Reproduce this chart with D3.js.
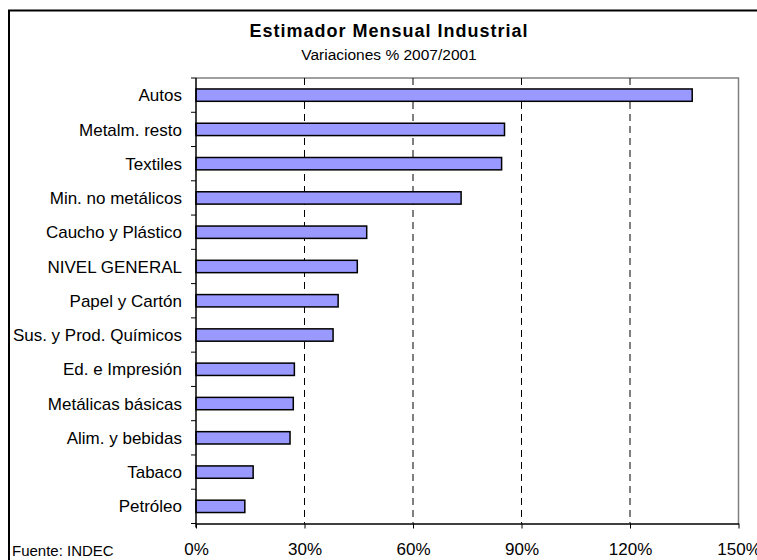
<html>
<head>
    <meta charset="utf-8">
    <title>Estimador Mensual Industrial</title>
    <style>
        body { margin: 0; background: #fff; }
        text { font-family: "Liberation Sans", Arial, sans-serif; fill: #000; }
        g.bars rect { fill: #9999ff; stroke: #000; stroke-width: 1.5; }
        g.grid line { stroke: #000; stroke-width: 1; stroke-dasharray: 7,5; }
        g.xaxis path, g.xaxis line { stroke: #000; }
    </style>
</head>
<body>
<div id="target"></div>
<script src="https://cdnjs.cloudflare.com/ajax/libs/d3/7.8.5/d3.min.js"></script>
<script>
    // data (% change 2007 vs 2001)
    var categories = ['Autos', 'Metalm. resto', 'Textiles', 'Min. no metálicos', 'Caucho y Plástico',
        'NIVEL GENERAL', 'Papel y Cartón', 'Sus. y Prod. Químicos', 'Ed. e Impresión',
        'Metálicas básicas', 'Alim. y bebidas', 'Tabaco', 'Petróleo'];
    var values = [137.2, 85.3, 84.5, 73.3, 47.2, 44.6, 39.3, 37.9, 27.2, 26.9, 26.0, 15.8, 13.5];
    var xTicks = [0, 30, 60, 90, 120, 150];
    var gridTicks = [30, 60, 90, 120];

    // plot area edges ("top" is taken by window.top, so prefix them)
    var plotLeft = 196, plotRight = 738.5, plotTop = 78, plotBottom = 523.5;

    var svg = d3.select('#target').append('svg')
            .attr('width', 757)
            .attr('height', 560);

    // outer frame
    svg.append('rect')
            .attr('x', 9).attr('y', 10.5)
            .attr('width', 800).attr('height', 600)
            .attr('fill', 'none').attr('stroke', '#000').attr('stroke-width', 2);

    svg.append('text')
            .attr('x', 389).attr('y', 37)
            .attr('text-anchor', 'middle')
            .style('font-size', '18px').style('font-weight', 'bold').style('letter-spacing', '1px')
            .text('Estimador Mensual Industrial');
    svg.append('text')
            .attr('x', 389).attr('y', 60)
            .attr('text-anchor', 'middle')
            .style('font-size', '15.5px')
            .text('Variaciones % 2007/2001');

    var x = d3.scaleLinear().domain([0, 150]).range([plotLeft, plotRight]);
    var y = d3.scaleBand().domain(categories).range([plotTop, plotBottom]).padding(0);

    // plot area border (top / right in grey)
    svg.append('path')
            .attr('d', 'M' + plotLeft + ',' + plotTop + ' L' + plotRight + ',' + plotTop + ' L' + plotRight + ',' + plotBottom)
            .attr('fill', 'none').attr('stroke', '#808080').attr('stroke-width', 1.5);

    svg.append('g').attr('class', 'grid')
            .selectAll('line')
            .data(gridTicks)
            .enter().append('line')
            .attr('x1', function (d) { return x(d); })
            .attr('x2', function (d) { return x(d); })
            .attr('y1', plotTop).attr('y2', plotBottom);

    var barH = y.bandwidth() * 0.36;
    svg.append('g').attr('class', 'bars')
            .selectAll('rect')
            .data(values)
            .enter().append('rect')
            .attr('x', x(0))
            .attr('y', function (d, i) { return y(categories[i]) + y.bandwidth() / 2 - barH / 2; })
            .attr('width', function (d) { return x(d) - x(0); })
            .attr('height', barH);

    // x axis
    var xAxis = d3.axisBottom(x)
            .tickValues(xTicks)
            .tickSize(5)
            .tickSizeOuter(0)
            .tickPadding(14)
            .tickFormat(function (d) { return d + '%'; });
    var gx = svg.append('g').attr('class', 'xaxis')
            .attr('transform', 'translate(0,' + plotBottom + ')')
            .call(xAxis);
    gx.selectAll('text').style('font-size', '17px').style('font-family', '"Liberation Sans", Arial, sans-serif');
    gx.select('path.domain').attr('stroke-width', 1.5);

    // y axis: line, ticks on band edges, labels
    var gy = svg.append('g').attr('class', 'yaxis');
    gy.append('line')
            .attr('x1', plotLeft).attr('x2', plotLeft)
            .attr('y1', plotTop).attr('y2', plotBottom + 4)
            .attr('stroke', '#000').attr('stroke-width', 1.5);
    var edges = categories.map(function (c) { return y(c); }).concat([plotBottom]);
    gy.selectAll('line.tick')
            .data(edges)
            .enter().append('line')
            .attr('class', 'tick')
            .attr('x1', plotLeft - 5).attr('x2', plotLeft)
            .attr('y1', function (d) { return d; })
            .attr('y2', function (d) { return d; })
            .attr('stroke', '#000').attr('stroke-width', 1);
    gy.selectAll('text')
            .data(categories)
            .enter().append('text')
            .attr('x', 182)
            .attr('y', function (d) { return y(d) + y.bandwidth() / 2; })
            .attr('dy', '0.36em')
            .attr('text-anchor', 'end')
            .style('font-size', '17px')
            .text(function (d) { return d; });

    svg.append('text')
            .attr('x', 12).attr('y', 556)
            .style('font-size', '15px')
            .text('Fuente: INDEC');
</script>
</body>
</html>
